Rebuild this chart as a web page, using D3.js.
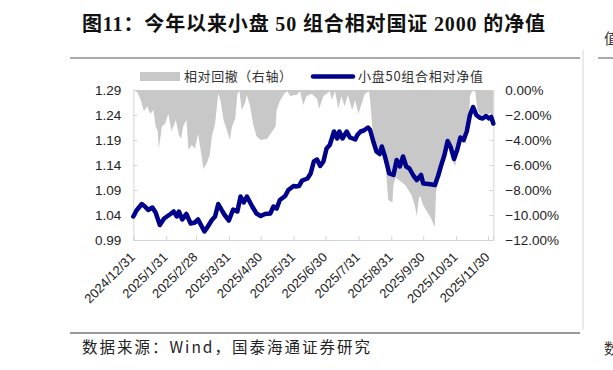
<!DOCTYPE html>
<html>
<head>
<meta charset="utf-8">
<script src="https://d3js.org/d3.v7.min.js"></script>
<style>
  body { margin: 0; background: #fff; }
  svg { display: block; font-family: "Liberation Sans", Arial, "Noto Sans CJK SC", sans-serif; }
  .cjk { font-family: "Noto Sans CJK SC", sans-serif; }
</style>
</head>
<body>
<svg width="613" height="370"></svg>
<script>
// relative net value of the small-cap 50 portfolio (left axis)
var lineDates = ["2024-12-31","2025-01-03","2025-01-08","2025-01-11","2025-01-14","2025-01-18","2025-01-21","2025-01-25","2025-01-29",
  "2025-02-04","2025-02-07","2025-02-10","2025-02-12","2025-02-15","2025-02-19","2025-02-23","2025-02-27","2025-03-02","2025-03-08",
  "2025-03-10","2025-03-15","2025-03-18","2025-03-21","2025-03-25","2025-03-27","2025-03-31","2025-04-04","2025-04-08","2025-04-11",
  "2025-04-14","2025-04-17","2025-04-22","2025-04-26","2025-04-30","2025-05-04","2025-05-09","2025-05-12","2025-05-15","2025-05-18",
  "2025-05-23","2025-05-26","2025-05-31","2025-06-02","2025-06-05","2025-06-08","2025-06-13","2025-06-16","2025-06-19","2025-06-22",
  "2025-06-25","2025-06-28","2025-07-01","2025-07-04","2025-07-08","2025-07-11","2025-07-13","2025-07-16","2025-07-20","2025-07-23",
  "2025-07-28","2025-07-30","2025-08-02","2025-08-05","2025-08-09","2025-08-11","2025-08-14","2025-08-17","2025-08-20","2025-08-22",
  "2025-08-25","2025-08-29","2025-09-02","2025-09-05","2025-09-08","2025-09-11","2025-09-14","2025-09-17","2025-09-21","2025-09-24",
  "2025-09-28","2025-09-30","2025-10-05","2025-10-11","2025-10-14","2025-10-17","2025-10-20","2025-10-23","2025-10-26","2025-10-29",
  "2025-11-01","2025-11-04","2025-11-07","2025-11-10","2025-11-13","2025-11-16","2025-11-19","2025-11-22","2025-11-25","2025-11-28",
  "2025-12-01","2025-12-03","2025-12-05"];
var lineValues = [1.037,1.049,1.062,1.057,1.050,1.055,1.045,1.020,1.033,
  1.042,1.047,1.037,1.047,1.031,1.042,1.023,1.025,1.031,1.007,
  1.013,1.030,1.037,1.062,1.047,1.040,1.029,1.051,1.047,1.077,
  1.065,1.077,1.057,1.043,1.038,1.042,1.043,1.057,1.053,1.070,
  1.078,1.090,1.098,1.097,1.098,1.109,1.113,1.123,1.147,1.151,
  1.138,1.147,1.173,1.180,1.207,1.193,1.207,1.193,1.207,1.195,
  1.191,1.200,1.207,1.209,1.215,1.210,1.187,1.167,1.162,1.177,
  1.157,1.123,1.120,1.150,1.137,1.157,1.137,1.133,1.118,1.110,
  1.120,1.103,1.102,1.100,1.118,1.140,1.160,1.188,1.175,1.152,
  1.170,1.195,1.190,1.207,1.240,1.256,1.240,1.235,1.233,1.238,
  1.233,1.236,1.223];

// relative drawdown, percent (right axis)
var ddDates = ["2024-12-31","2025-01-04","2025-01-07","2025-01-10","2025-01-13","2025-01-16","2025-01-19","2025-01-21","2025-01-23",
  "2025-01-24","2025-01-27","2025-01-30","2025-02-02","2025-02-05","2025-02-09","2025-02-12","2025-02-14","2025-02-16","2025-02-19",
  "2025-02-21","2025-02-24","2025-02-27","2025-03-02","2025-03-05","2025-03-07","2025-03-10","2025-03-13","2025-03-15","2025-03-18",
  "2025-03-21","2025-03-23","2025-03-26","2025-03-29","2025-04-01","2025-04-03","2025-04-06","2025-04-08","2025-04-10","2025-04-12",
  "2025-04-15","2025-04-17","2025-04-20","2025-04-23","2025-04-26","2025-04-30","2025-05-06","2025-05-11","2025-05-14","2025-05-15",
  "2025-05-18","2025-05-22","2025-05-25","2025-05-28","2025-05-31","2025-06-03","2025-06-06","2025-06-09","2025-06-12","2025-06-17",
  "2025-06-22","2025-06-24","2025-06-28","2025-07-01","2025-07-04","2025-07-06","2025-07-09","2025-07-12","2025-07-15","2025-07-18",
  "2025-07-21","2025-07-25","2025-07-28","2025-07-31","2025-08-03","2025-08-06","2025-08-10","2025-08-11","2025-08-13","2025-08-16",
  "2025-08-19","2025-08-22","2025-08-25","2025-08-28","2025-09-01","2025-09-02","2025-09-04","2025-09-07","2025-09-10","2025-09-13",
  "2025-09-16","2025-09-19","2025-09-22","2025-09-24","2025-09-26","2025-09-27","2025-09-30","2025-10-04","2025-10-07","2025-10-10",
  "2025-10-11","2025-10-12","2025-10-15","2025-10-18","2025-10-21","2025-10-24","2025-10-27","2025-10-30","2025-11-02","2025-11-06",
  "2025-11-09","2025-11-12","2025-11-13","2025-11-15","2025-11-18","2025-11-20","2025-11-23","2025-11-27","2025-11-30","2025-12-02",
  "2025-12-05"];
var ddValues = [0,-0.2,-0.8,-1.7,-1.3,-1.9,-1.6,-2.9,-3.3,
  -4.7,-2.9,-2.7,-1.9,-3.3,-2.4,-3.6,-3.9,-2.9,-2.4,
  -4.8,-4.4,-4.7,-3.5,-5.1,-6.3,-5.9,-5.2,-3.7,-2.7,
  -0.3,-0.8,-2.4,-3.2,-4.0,-2.9,-2.3,-0.3,-0.1,-1.6,
  -1.1,-0.4,-1.3,-2.8,-3.7,-4.0,-3.9,-3.3,-2.9,-1.6,
  -0.9,-0.3,-0.1,-0.5,-0.4,-0.4,-0.1,-1.2,-0.5,-0.3,
  -0.7,-1.5,-0.5,-0.3,-0.1,-0.8,-0.1,-1.5,-0.5,-1.3,
  -0.4,-1.6,-0.8,-1.9,-1.1,-0.3,-0.1,-0.8,-2.9,-4.7,
  -4.9,-4.4,-5.3,-8.8,-9.0,-7.6,-7.0,-7.2,-7.4,-7.6,
  -8.0,-8.4,-9.2,-10.1,-8.6,-8.5,-9.2,-9.8,-10.2,-10.8,
  -10.9,-8.2,-7.0,-6.0,-4.9,-4.0,-5.5,-6.1,-4.8,-4.0,
  -4.3,-2.9,-0.5,-0.1,-0.1,-1.6,-2.0,-1.9,-2.0,-1.8,
  -2.2];

var tickDates = ["2024-12-31","2025-01-31","2025-02-28","2025-03-31","2025-04-30","2025-05-31",
  "2025-06-30","2025-07-31","2025-08-31","2025-09-30","2025-10-31","2025-11-30"];
var leftTicks = [0.99, 1.04, 1.09, 1.14, 1.19, 1.24, 1.29];
var rightTicks = [0, -2, -4, -6, -8, -10, -12];

var parse = d3.timeParse("%Y-%m-%d");
var fmtTick = d3.timeFormat("%Y/%-m/%-d");

var lineData = lineDates.map(function(d, i){ return {date: parse(d), v: lineValues[i]}; });
var ddData = ddDates.map(function(d, i){ return {date: parse(d), v: ddValues[i]}; });

var svg = d3.select("svg");
var plotL = 133.3, plotR = 493.3, plotT = 90, plotB = 240;

var x = d3.scaleTime().domain([parse("2024-12-31"), parse("2025-12-05")]).range([plotL, plotR]);
var yL = d3.scaleLinear().domain([0.99, 1.29]).range([plotB, plotT]);
var yR = d3.scaleLinear().domain([-12, 0]).range([plotB, plotT]);

// title
svg.append("text").attr("x", 82).attr("y", 31)
  .attr("font-family", "'Liberation Serif', 'Noto Sans CJK SC', serif")
  .attr("font-weight", "bold").attr("font-size", 20).attr("fill", "#111")
  .attr("textLength", 463).attr("lengthAdjust", "spacing")
  .text("图11：今年以来小盘 50 组合相对国证 2000 的净值");
svg.append("line").attr("x1", 70).attr("x2", 580).attr("y1", 58).attr("y2", 58)
  .attr("stroke", "#555").attr("stroke-width", 1);
svg.append("line").attr("x1", 598).attr("x2", 613).attr("y1", 58).attr("y2", 58)
  .attr("stroke", "#555").attr("stroke-width", 1);
svg.append("line").attr("x1", 583).attr("x2", 583).attr("y1", 50).attr("y2", 330)
  .attr("stroke", "#d8d8d8").attr("stroke-width", 1);
// edges of the neighbouring column, cut off by the crop
svg.append("text").attr("x", 604).attr("y", 44).attr("class", "cjk")
  .attr("font-size", 15).attr("fill", "#333").text("值");
svg.append("text").attr("x", 604).attr("y", 354).attr("class", "cjk")
  .attr("font-size", 15).attr("fill", "#333").text("数");

// drawdown area
var area = d3.area()
  .x(function(d){ return x(d.date); })
  .y0(yR(0))
  .y1(function(d){ return yR(d.v); });
svg.append("path").datum(ddData).attr("d", area).attr("fill", "#c8c8c8");

// axes
var axisColor = "#d4d4d4";
var gL = svg.append("g").attr("transform", "translate(" + plotL + ",0)")
  .call(d3.axisLeft(yL).tickValues(leftTicks).tickSize(-4).tickPadding(12).tickFormat(d3.format(".2f")));
var gR = svg.append("g").attr("transform", "translate(" + plotR + ",0)")
  .call(d3.axisRight(yR).tickValues(rightTicks).tickSize(-4).tickPadding(12)
    .tickFormat(function(d){ return d3.format(".2f")(d) + "%"; }));
var gB = svg.append("g").attr("transform", "translate(0," + plotB + ")")
  .call(d3.axisBottom(x).tickValues(tickDates.map(parse)).tickSize(-4).tickFormat(fmtTick));

[gL, gR, gB].forEach(function(g){
  g.select(".domain").attr("stroke", axisColor);
  g.selectAll(".tick line").attr("stroke", axisColor);
  g.selectAll("text").attr("fill", "#222").attr("font-size", 13.5)
    .attr("font-family", "'Liberation Sans', Arial, sans-serif");
});
gB.selectAll("text")
  .attr("text-anchor", "end")
  .attr("font-size", 13)
  .attr("dy", 0).attr("y", 0)
  .attr("transform", "translate(2,18) rotate(-45)");

// net value line
var lineGen = d3.line()
  .x(function(d){ return x(d.date); })
  .y(function(d){ return yL(d.v); });
svg.append("path").datum(lineData).attr("d", lineGen)
  .attr("fill", "none").attr("stroke", "#00008a").attr("stroke-width", 4.5)
  .attr("stroke-linejoin", "round").attr("stroke-linecap", "round");

// legend
svg.append("rect").attr("x", 140).attr("y", 72).attr("width", 40).attr("height", 9).attr("fill", "#c8c8c8");
svg.append("text").attr("x", 184).attr("y", 81).attr("class", "cjk")
  .attr("font-size", 13).attr("fill", "#333")
  .attr("textLength", 108).attr("lengthAdjust", "spacing")
  .text("相对回撤（右轴）");
svg.append("line").attr("x1", 313).attr("x2", 353).attr("y1", 76.5).attr("y2", 76.5)
  .attr("stroke", "#00008a").attr("stroke-width", 4.5).attr("stroke-linecap", "round");
svg.append("text").attr("x", 358).attr("y", 81).attr("class", "cjk")
  .attr("font-size", 13).attr("fill", "#333")
  .attr("textLength", 125).attr("lengthAdjust", "spacing")
  .text("小盘50组合相对净值");

// source
svg.append("line").attr("x1", 70).attr("x2", 580).attr("y1", 333).attr("y2", 333)
  .attr("stroke", "#333").attr("stroke-width", 1);
svg.append("text").attr("x", 82).attr("y", 353).attr("class", "cjk")
  .attr("font-size", 15.5).attr("fill", "#222")
  .attr("textLength", 288).attr("lengthAdjust", "spacing")
  .text("数据来源：Wind，国泰海通证券研究");
</script>
</body>
</html>
